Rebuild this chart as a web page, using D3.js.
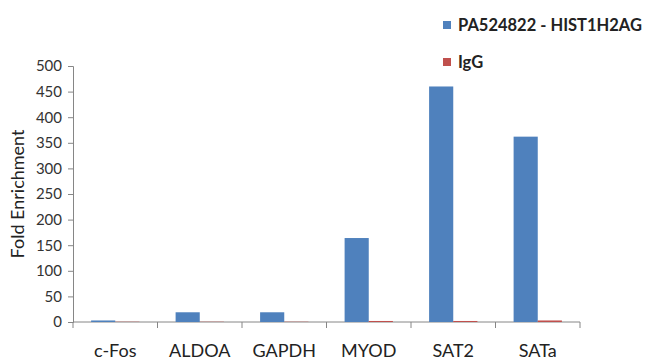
<!DOCTYPE html>
<html>
<head>
<meta charset="utf-8">
<script src="https://cdn.jsdelivr.net/npm/d3@7"></script>
<style>
  body { margin: 0; background: #fff; }
  svg { font-family: Lato, "Open Sans", sans-serif; }
</style>
</head>
<body>
<svg id="chart" width="650" height="364"></svg>
<script>
// data
var categories = ["c-Fos", "ALDOA", "GAPDH", "MYOD", "SAT2", "SATa"]
var seriesNames = ["PA524822 - HIST1H2AG", "IgG"]
var antibody = [3, 19, 19, 164, 460, 362]
var igg = [0.5, 0.5, 0.5, 2, 2, 3]
var yTicks = [0, 50, 100, 150, 200, 250, 300, 350, 400, 450, 500]
var colors = ["#4F81BD", "#C0504D"]

var svg = d3.select("#chart")
var plotL = 73, plotR = 580, plotT = 66, plotB = 322

var x = d3.scaleBand().domain(categories).range([plotL, plotR])
var inner = d3.scaleBand().domain([0, 1]).range([0, x.bandwidth()]).paddingOuter(0.75).paddingInner(0)
var y = d3.scaleLinear().domain([0, 500]).range([plotB, plotT])

// y axis
var yAxis = svg.append("g")
	.attr("transform", "translate(" + plotL + ",0)")
	.call(d3.axisLeft(y).tickValues(yTicks).tickSize(5).tickPadding(6))
yAxis.selectAll("line, path").attr("stroke", "#868686")
yAxis.selectAll("text").attr("font-size", 15).attr("fill", "#333").attr("font-family", "Lato, sans-serif")

// x axis
var xAxis = svg.append("g")
	.attr("transform", "translate(0," + plotB + ")")
xAxis.append("line")
	.attr("x1", plotL).attr("x2", plotR)
	.attr("stroke", "#868686")
xAxis.selectAll("line.tick")
	.data(categories.concat(["end"]))
	.enter().append("line")
		.attr("class", "tick")
		.attr("x1", function(d, i) { return i < categories.length ? x(d) : plotR })
		.attr("x2", function(d, i) { return i < categories.length ? x(d) : plotR })
		.attr("y1", 0).attr("y2", 6)
		.attr("stroke", "#868686")
xAxis.selectAll("text")
	.data(categories)
	.enter().append("text")
		.attr("x", function(d) { return x(d) + x.bandwidth() / 2 })
		.attr("y", 35)
		.attr("text-anchor", "middle")
		.attr("font-size", 18)
		.attr("fill", "#222")
		.text(function(d) { return d })

// bars
var series = [antibody, igg]
series.forEach(function(vals, s) {
	svg.append("g").selectAll("rect")
		.data(vals)
		.enter().append("rect")
			.attr("x", function(d, i) { return x(categories[i]) + inner(s) })
			.attr("width", inner.bandwidth())
			.attr("y", function(d) { return y(d) })
			.attr("height", function(d) { return plotB - y(d) })
			.attr("fill", colors[s])
})

// y title
svg.append("text")
	.attr("transform", "translate(24," + ((plotT + plotB) / 2) + ") rotate(-90)")
	.attr("text-anchor", "middle")
	.attr("font-size", 18)
	.attr("fill", "#222")
	.text("Fold Enrichment")

// legend
var legend = svg.append("g")
legend.selectAll("g")
	.data(seriesNames)
	.enter().append("g")
		.attr("transform", function(d, i) { return "translate(443," + (21 + i * 37) + ")" })
		.each(function(d, i) {
			var g = d3.select(this)
			g.append("rect").attr("width", 8).attr("height", 8).attr("fill", colors[i])
			g.append("text").attr("x", 15).attr("y", 10)
				.attr("font-size", 16.5).attr("font-weight", "bold").attr("fill", "#222")
				.text(d)
		})
</script>
</body>
</html>
